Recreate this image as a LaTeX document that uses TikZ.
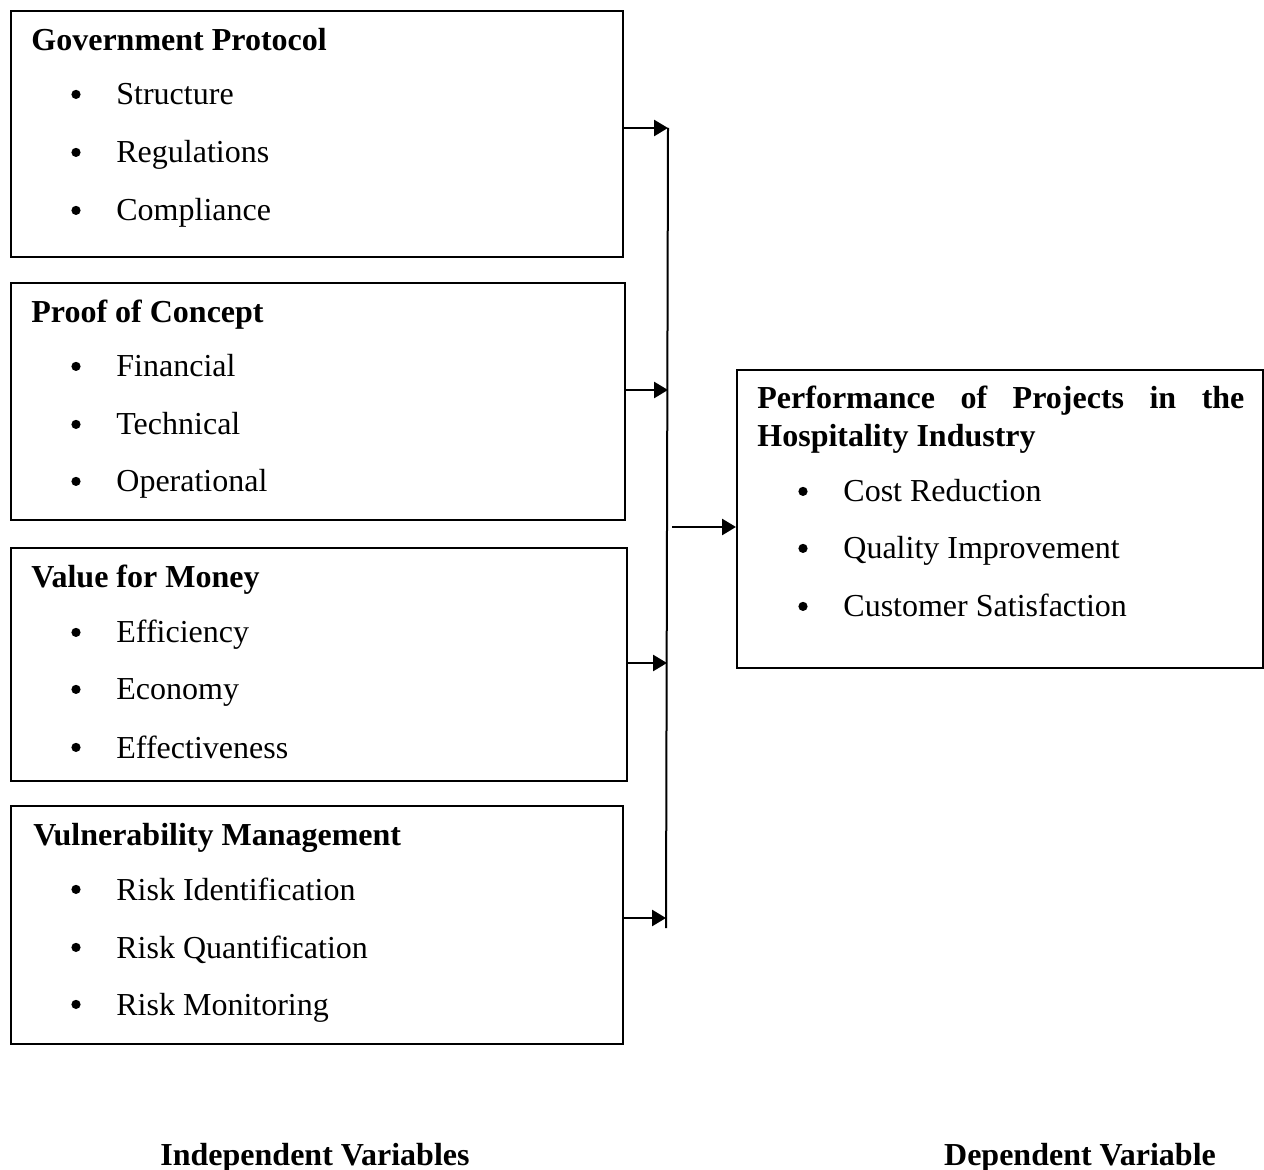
\documentclass[tikz,border=0pt]{standalone}
\usepackage{fontspec}
\setmainfont{Liberation Serif}
\usetikzlibrary{arrows.meta}
\begin{document}
\begin{tikzpicture}[x=0.5pt,y=-0.5pt,
  box/.style={draw, line width=1pt, anchor=north west, inner sep=0pt},
  tx/.style={anchor=base west, inner sep=0pt, font=\fontsize{16pt}{19pt}\selectfont},
  ttl/.style={tx, font=\fontsize{16pt}{19pt}\selectfont\bfseries},
  bul/.style={circle, fill, inner sep=0pt, minimum size=4.6pt, yshift=5.3pt},
  lbl/.style={anchor=base, inner sep=0pt, font=\fontsize{16pt}{19pt}\selectfont\bfseries},
  bus/.style={line width=1pt},
  arr/.style={line width=1.3pt, -{Triangle[length=7pt,width=8pt]}}]
\useasboundingbox (0,0) rectangle (1264,1170);

% boxes
\node[box, minimum width=306pt, minimum height=123pt] (b1) at (10,10) {};
\node[box, minimum width=307pt, minimum height=118.5pt] (b2) at (10,282) {};
\node[box, minimum width=308pt, minimum height=116.5pt] (b3) at (10,547) {};
\node[box, minimum width=306pt, minimum height=119pt] (b4) at (10,805) {};
\node[box, minimum width=263pt, minimum height=149pt] (r) at (736,369) {};

% box 1
\node[ttl] (t1) at (31,51) {Government Protocol};
\node[bul] (p11) at (76,105) {};
\node[tx] (i11) at (116,105) {Structure};
\node[bul] (p12) at (76,163) {};
\node[tx] (i12) at (116,163) {Regulations};
\node[bul] (p13) at (76,221) {};
\node[tx] (i13) at (116,221) {Compliance};

% box 2
\node[ttl] (t2) at (31,323) {Proof of Concept};
\node[bul] (p21) at (76,377) {};
\node[tx] (i21) at (116,377) {Financial};
\node[bul] (p22) at (76,435) {};
\node[tx] (i22) at (116,435) {Technical};
\node[bul] (p23) at (76,492) {};
\node[tx] (i23) at (116,492) {Operational};

% box 3
\node[ttl] (t3) at (31,588) {Value for Money};
\node[bul] (p31) at (76,643) {};
\node[tx] (i31) at (116,643) {Efficiency};
\node[bul] (p32) at (76,700) {};
\node[tx] (i32) at (116,700) {Economy};
\node[bul] (p33) at (76,758) {};
\node[tx] (i33) at (116,758) {Effectiveness};

% box 4
\node[ttl] (t4) at (33,845) {Vulnerability Management};
\node[bul] (p41) at (76,900) {};
\node[tx] (i41) at (116,900) {Risk Identification};
\node[bul] (p42) at (76,958) {};
\node[tx] (i42) at (116,958) {Risk Quantification};
\node[bul] (p43) at (76,1015) {};
\node[tx] (i43) at (116,1015) {Risk Monitoring};

% right box
\node[ttl] (rt1) at (757,409) {\makebox[243.5pt][s]{Performance of Projects in the}};
\node[ttl] (rt2) at (757,447) {Hospitality Industry};
\node[bul] (pr1) at (803,502) {};
\node[tx] (ir1) at (843,502) {Cost Reduction};
\node[bul] (pr2) at (803,559) {};
\node[tx] (ir2) at (843,559) {Quality Improvement};
\node[bul] (pr3) at (803,617) {};
\node[tx] (ir3) at (843,617) {Customer Satisfaction};

% bottom labels
\node[lbl] (iv) at (315,1165) {Independent Variables};
\node[lbl] (dv) at (1080,1165) {Dependent Variable};

% bus and arrows
\coordinate (top) at (668,128);
\coordinate (bot) at (666,928);
\coordinate (a1) at (668,128);
\coordinate (a2) at (668,390);
\coordinate (a4) at (667,663);
\coordinate (a5) at (666,918);
\coordinate (m) at (672,527);
\draw[bus] (top) -- (bot);
\draw[arr] (b1.east |- a1) -- (a1);
\draw[arr] (b2.east |- a2) -- (a2);
\draw[arr] (b3.east |- a4) -- (a4);
\draw[arr] (b4.east |- a5) -- (a5);
\draw[arr] (m) -- (r.west |- m);
\end{tikzpicture}
\end{document}
